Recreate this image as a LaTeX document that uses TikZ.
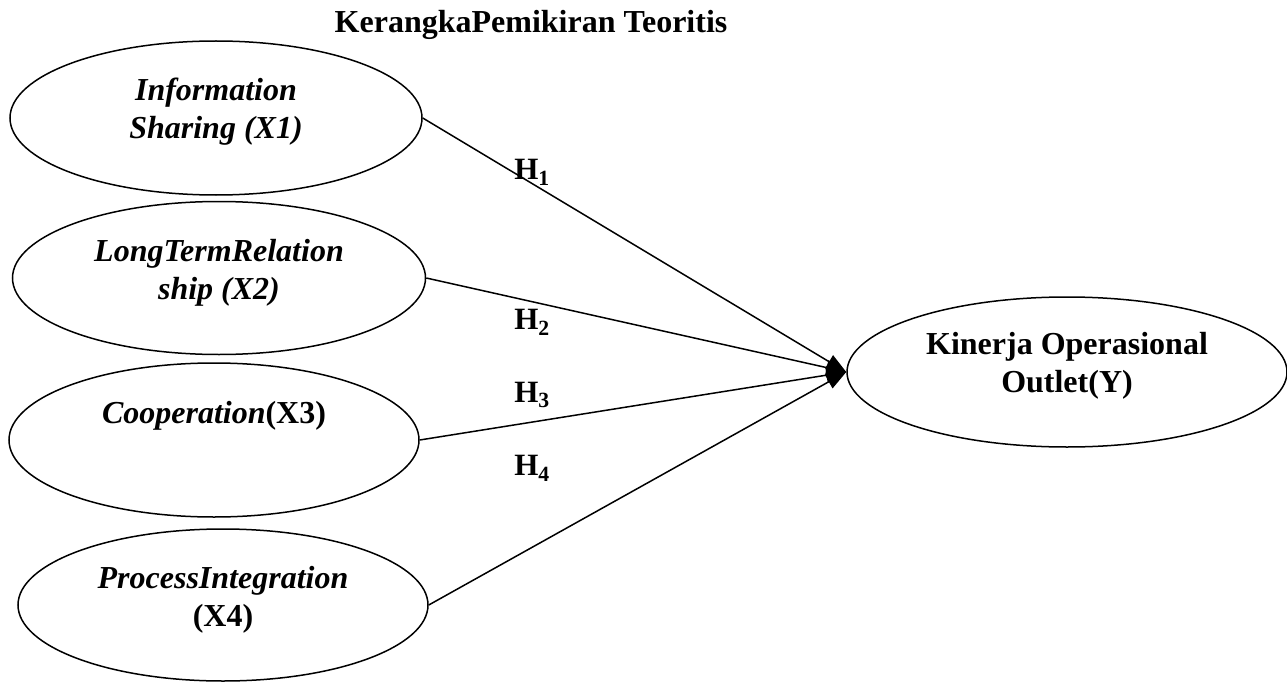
\documentclass[tikz,border=0pt]{standalone}
\usepackage{fontspec}
\setmainfont{Liberation Serif}
\usepackage{tikz}
\usetikzlibrary{positioning,shapes,calc,arrows.meta}

\begin{document}
\begin{tikzpicture}[x=1pt,y=-1pt,
    var/.style={draw, ellipse, line width=1.5pt, inner sep=0pt},
    vtext/.style={align=center, font=\fontsize{32}{38}\selectfont\bfseries},
    itext/.style={vtext, font=\fontsize{32}{38}\selectfont\bfseries\itshape},
    hyp/.style={font=\fontsize{31}{36}\selectfont\bfseries}]
  \useasboundingbox (0,0) rectangle (1287,682);
  \node[vtext] (title) at (531,25) {KerangkaPemikiran Teoritis};

  % variables
  \node[var, minimum width=412pt, minimum height=154pt] (x1) at (216,118) {};
  \node[var, minimum width=413pt, minimum height=153pt] (x2) at (219,278) {};
  \node[var, minimum width=410pt, minimum height=154pt] (x3) at (214,440) {};
  \node[var, minimum width=410pt, minimum height=152pt] (x4) at (223,605) {};
  \node[var, minimum width=440pt, minimum height=150pt] (kin) at (1067,372) {};

  \node[itext] (t1) at ($(x1)+(0,-6)$) {Information\\Sharing (X1)};
  \node[itext] (t2) at ($(x2)+(0,-5)$) {LongTermRelation\\ship (X2)};
  \node[vtext] (t3) at ($(x3)+(0,-24)$) {\textit{Cooperation}(X3)};
  \node[vtext] (t4) at ($(x4)+(0,-5)$) {\textit{ProcessIntegration}\\(X4)};
  \node[vtext] (tk) at ($(kin)+(0,-6)$) {Kinerja Operasional\\Outlet(Y)};

  \foreach \i in {1,...,4}
    \draw[->, >={Triangle[length=20pt,width=15pt]}, line width=1.5pt] (x\i.east) -- (kin.west);

  \foreach \i/\hy in {1/172,2/322,3/395,4/468}
    \node[hyp] (h\i) at (532,\hy) {H\textsubscript{\i}};
\end{tikzpicture}
\end{document}
